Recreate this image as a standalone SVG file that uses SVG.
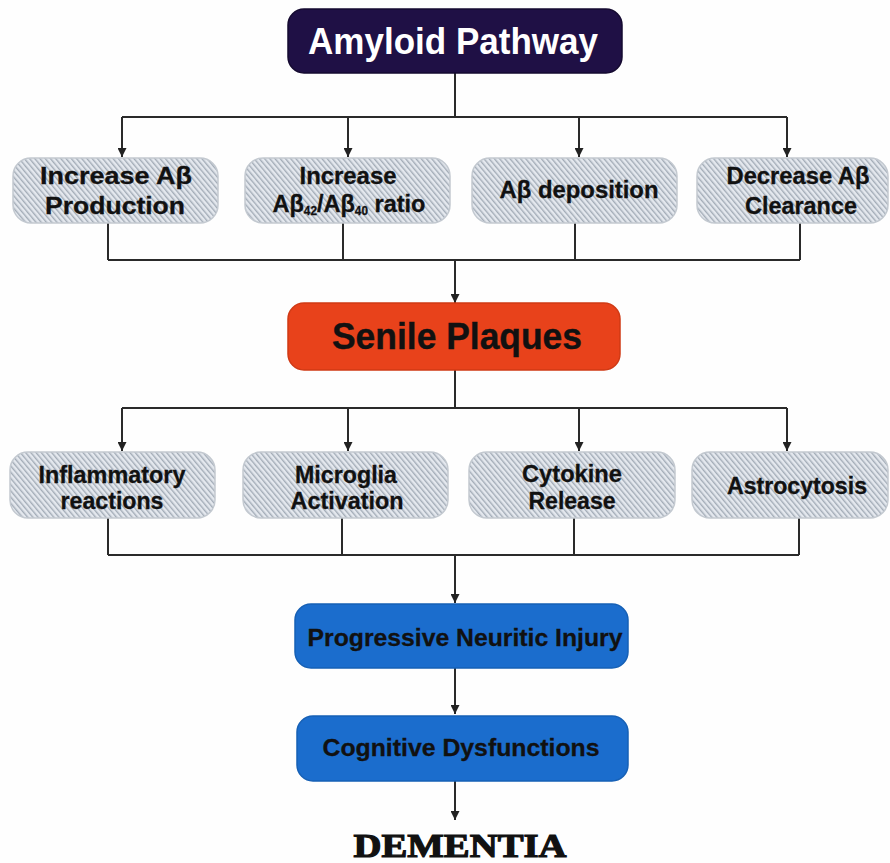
<svg xmlns="http://www.w3.org/2000/svg" width="890" height="863" viewBox="0 0 890 863">
<defs>
<pattern id="hatch" width="4" height="4" patternUnits="userSpaceOnUse" patternTransform="rotate(-40)">
<rect width="4" height="4" fill="#e4e8ee"/>
<rect width="1.4" height="4" fill="#a3acb7"/>
</pattern>
<marker id="arr" viewBox="0 0 10 10" refX="10" refY="5" markerWidth="10" markerHeight="9" markerUnits="userSpaceOnUse" orient="auto">
<path d="M0,0 L10,5 L0,10 z" fill="#222"/>
</marker>
<style>
.hb{fill:url(#hatch);stroke:#c3c9d0;stroke-width:1.5}
.t{font-family:"Liberation Sans",Arial,sans-serif;font-weight:bold;text-anchor:middle}
.bt{font-size:24px;fill:#111;stroke:#111;stroke-width:0.3}
.c{fill:none;stroke:#2a2a2a;stroke-width:2}
.ca{fill:none;stroke:#2a2a2a;stroke-width:2;marker-end:url(#arr)}
</style>
</defs>
<rect width="890" height="863" fill="#fefefe"/>

<g id="connectors">
<path class="c" d="M455,73 V117 M122,117 H787"/>
<path class="ca" d="M122,117 V157"/>
<path class="ca" d="M348,117 V157"/>
<path class="ca" d="M579,117 V157"/>
<path class="ca" d="M787,117 V157"/>
<path class="c" d="M108,223 V260 M343,223 V260 M575,223 V260 M800,223 V260 M108,260 H800"/>
<path class="ca" d="M455,260 V303"/>
<path class="c" d="M455,370 V408 M122,408 H787"/>
<path class="ca" d="M122,408 V451"/>
<path class="ca" d="M348,408 V451"/>
<path class="ca" d="M579,408 V451"/>
<path class="ca" d="M787,408 V451"/>
<path class="c" d="M108,518 V555 M342,518 V555 M574,518 V555 M799,518 V555 M108,555 H799"/>
<path class="ca" d="M455,555 V603"/>
<path class="ca" d="M455,668 V714"/>
<path class="ca" d="M455,781 V820"/>
</g>

<g id="amyloid">
<rect x="288" y="9" width="334" height="64" rx="16" fill="#1f1045" stroke="#150a30" stroke-width="1.5"/>
<text class="t" x="453" y="54" font-size="36" fill="#ffffff" textLength="290" lengthAdjust="spacingAndGlyphs">Amyloid Pathway</text>
</g>

<g id="inc-production">
<rect class="hb" x="13" y="158" width="205" height="65" rx="18"/>
<text class="t bt" x="116" y="184" textLength="152" lengthAdjust="spacingAndGlyphs">Increase Aβ</text>
<text class="t bt" x="115" y="214" textLength="140" lengthAdjust="spacingAndGlyphs">Production</text>
</g>

<g id="inc-ratio">
<rect class="hb" x="245" y="158" width="205" height="65" rx="18"/>
<text class="t bt" x="348" y="184" textLength="97" lengthAdjust="spacingAndGlyphs">Increase</text>
<text class="t bt" x="349" y="212" textLength="153" lengthAdjust="spacingAndGlyphs">Aβ<tspan font-size="12" dy="3">42</tspan><tspan dy="-3">/Aβ</tspan><tspan font-size="12" dy="3">40</tspan><tspan dy="-3"> ratio</tspan></text>
</g>

<g id="deposition">
<rect class="hb" x="472" y="158" width="205" height="65" rx="18"/>
<text class="t bt" x="579" y="198" textLength="159" lengthAdjust="spacingAndGlyphs">Aβ deposition</text>
</g>

<g id="dec-clearance">
<rect class="hb" x="697" y="158" width="191" height="65" rx="18"/>
<text class="t bt" x="798" y="184" textLength="143" lengthAdjust="spacingAndGlyphs">Decrease Aβ</text>
<text class="t bt" x="801" y="214" textLength="112" lengthAdjust="spacingAndGlyphs">Clearance</text>
</g>

<g id="senile">
<rect x="288" y="303" width="332" height="67" rx="16" fill="#e8421b" stroke="#d03a15" stroke-width="1.5"/>
<text class="t" x="457" y="349" font-size="36" fill="#111" stroke="#111" stroke-width="0.4" textLength="250" lengthAdjust="spacingAndGlyphs">Senile Plaques</text>
</g>

<g id="inflammatory">
<rect class="hb" x="10" y="452" width="205" height="66" rx="18"/>
<text class="t bt" x="112" y="483" textLength="147" lengthAdjust="spacingAndGlyphs">Inflammatory</text>
<text class="t bt" x="112" y="509" textLength="103" lengthAdjust="spacingAndGlyphs">reactions</text>
</g>

<g id="microglia">
<rect class="hb" x="243" y="452" width="205" height="66" rx="18"/>
<text class="t bt" x="346" y="483" textLength="102" lengthAdjust="spacingAndGlyphs">Microglia</text>
<text class="t bt" x="347" y="509" textLength="113" lengthAdjust="spacingAndGlyphs">Activation</text>
</g>

<g id="cytokine">
<rect class="hb" x="469" y="452" width="206" height="66" rx="18"/>
<text class="t bt" x="572" y="482" textLength="100" lengthAdjust="spacingAndGlyphs">Cytokine</text>
<text class="t bt" x="572" y="509" textLength="87" lengthAdjust="spacingAndGlyphs">Release</text>
</g>

<g id="astrocytosis">
<rect class="hb" x="692" y="452" width="196" height="66" rx="18"/>
<text class="t bt" x="797" y="494" textLength="140" lengthAdjust="spacingAndGlyphs">Astrocytosis</text>
</g>

<g id="neuritic">
<rect x="295" y="604" width="333" height="64" rx="16" fill="#1b6dcd" stroke="#1660b5" stroke-width="1.5"/>
<text class="t bt" x="465" y="646" fill="#0b1632" stroke="#0b1632" textLength="315" lengthAdjust="spacingAndGlyphs">Progressive Neuritic Injury</text>
</g>

<g id="cognitive">
<rect x="297" y="716" width="331" height="65" rx="16" fill="#1b6dcd" stroke="#1660b5" stroke-width="1.5"/>
<text class="t bt" x="461" y="756" fill="#0b1632" stroke="#0b1632" textLength="277" lengthAdjust="spacingAndGlyphs">Cognitive Dysfunctions</text>
</g>

<g id="dementia">
<text x="460" y="857" font-family="Liberation Serif,'Times New Roman',serif" font-weight="bold" font-size="34" fill="#111" stroke="#111" stroke-width="1.2" text-anchor="middle" textLength="213" lengthAdjust="spacingAndGlyphs">DEMENTIA</text>
</g>
</svg>
